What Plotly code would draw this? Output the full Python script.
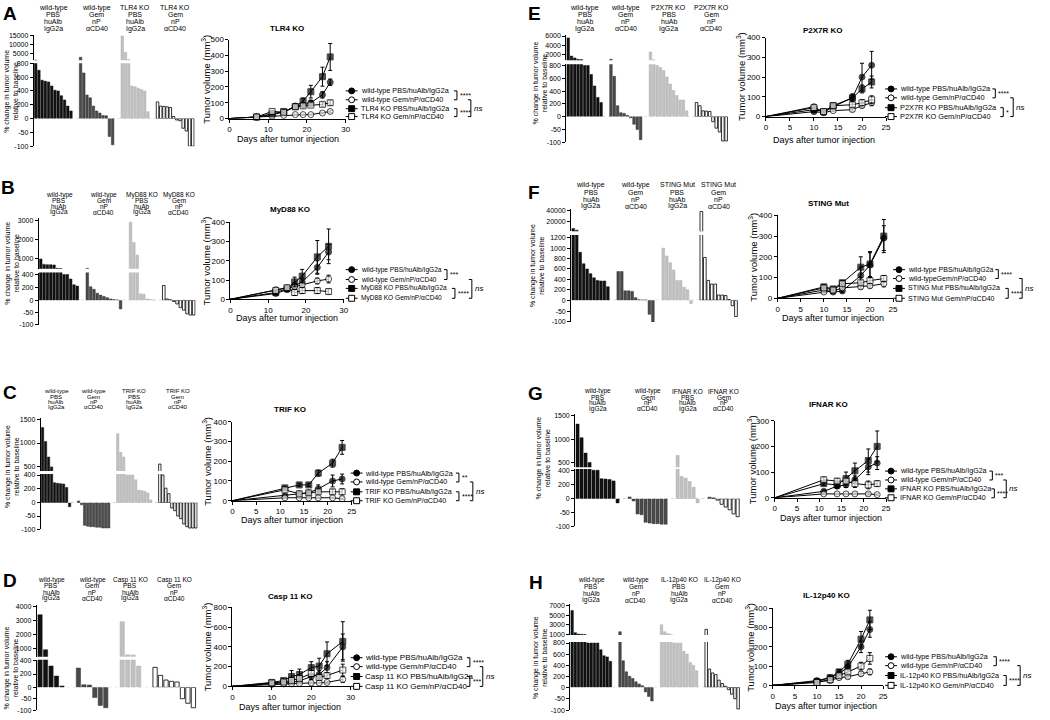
import plotly.graph_objects as go

W, H = 1050, 720
FONT = "Arial, Liberation Sans, sans-serif"

# ====================== DATA ======================
# --- Waterfall plots: % change in tumor volume relative to baseline (one list per group)
A_wf_wt_pbs = [850, 700, 555, 540, 530, 470, 410, 400, 330, 270, 180, 110]
A_wf_wt_gem = [2600, 660, 340, 300, 180, 110, 80, 45, 40, -65, -95]
A_wf_ko_pbs = [15000, 5500, 1200, 470, 460, 440, 420, 400, 100]
A_wf_ko_gem = [240, 180, 175, 170, 160, 30, -5, -8, -35, -45, -100, -100]

B_wf_wt_pbs = [1000, 720, 700, 700, 690, 520, 510, 400, 400, 330, 240, 220]
B_wf_wt_gem = [520, 210, 170, 110, 80, 60, 40, 20, 10, 5, -35]
B_wf_ko_pbs = [2900, 1850, 1200, 100, 95, 20, 10, 5]
B_wf_ko_gem = [230, 20, 5, -5, -15, -30, -40, -55, -60, -60]

C_wf_wt_pbs = [1330, 1030, 700, 490, 290, 280, 275, 270, 220, -15]
C_wf_wt_gem = [25, -8, -85, -88, -90, -90, -92, -92, -95, -95, -95]
C_wf_ko_pbs = [1200, 800, 700, 400, 400, 400, 330, 180, 175, 165, 140, 40]
C_wf_ko_gem = [550, 400, 210, 130, -20, -30, -50, -60, -80, -90, -95, -95, -95]

D_wf_wt_pbs = [3400, 900, 320, 170, 20]
D_wf_wt_gem = [290, 40, 35, -45, -80, -90]
D_wf_ko_pbs = [2900, 550, 530, 320]
D_wf_ko_gem = [300, 180, 110, 90, 80, -50, -70, -90]

E_wf_wt_pbs = [5600, 1700, 1300, 1000, 950, 800, 800, 660, 480, 300, 220]
E_wf_wt_gem = [1000, 630, 170, 60, 50, 20, -5, -30, -50, -90]
E_wf_ko_pbs = [2600, 900, 800, 770, 720, 620, 510, 410, 330, 260, 260, 90]
E_wf_ko_gem = [220, 170, 90, 85, 80, -20, -45, -60, -95, -95]

F_wf_wt_pbs = [6000, 3000, 920, 700, 600, 510, 430, 380, 370, 370, 260]
F_wf_wt_gem = [550, 550, 180, 180, 170, 50, 10, 5, 5, -65, -100]
F_wf_ko_pbs = [1000, 850, 720, 580, 380, 380, 250, 200, -15]
F_wf_ko_gem = [38000, 820, 380, 310, 310, 100, 100, 90, 10, -25, -75]

G_wf_wt_pbs = [1320, 1030, 700, 500, 400, 400, 280, 275, 270, 250, -15]
G_wf_wt_gem = [25, -8, -55, -58, -85, -88, -90, -90, -92, -92]
G_wf_ko_pbs = [650, 310, 290, 240, 160, -15]
G_wf_ko_gem = [20, 10, -5, -20, -30, -40, -55, -65]

H_wf_wt_pbs = [6000, 1300, 1000, 950, 900, 800, 800, 800, 800, 680, 570, 550, 470]
H_wf_wt_gem = [1500, 480, 280, 200, 160, 100, 60, 30, -20, -40, -60]
H_wf_ko_pbs = [3000, 1500, 1100, 900, 800, 800, 800, 650, 600, 450, 400, 300]
H_wf_ko_gem = [2000, 330, 260, 230, 130, 70, 20, -10, -30, -50, -95]

# --- Group labels above the waterfalls
A_groups = [["wild-type", "PBS", "huAlb", "IgG2a"], ["wild-type", "Gem", "nP", "αCD40"],
            ["TLR4 KO", "PBS", "huAlb", "IgG2a"], ["TLR4 KO", "Gem", "nP", "αCD40"]]
B_groups = [["wild-type", "PBS", "huAb", "IgG2a"], ["wild-type", "Gem", "nP", "αCD40"],
            ["MyD88 KO", "PBS", "huAb", "IgG2a"], ["MyD88 KO", "Gem", "nP", "αCD40"]]
C_groups = [["wild-type", "PBS", "huAlb", "IgG2a"], ["wild-type", "Gem", "nP", "αCD40"],
            ["TRIF KO", "PBS", "huAlb", "IgG2a"], ["TRIF KO", "Gem", "nP", "αCD40"]]
D_groups = [["wild-type", "PBS", "huAlb", "IgG2a"], ["wild-type", "Gem", "nP", "αCD40"],
            ["Casp 11 KO", "PBS", "huAlb", "IgG2a"], ["Casp 11 KO", "Gem", "nP", "αCD40"]]
E_groups = [["wild-type", "PBS", "huAb", "IgG2a"], ["wild-type", "Gem", "nP", "αCD40"],
            ["P2X7R KO", "PBS", "huAb", "IgG2a"], ["P2X7R KO", "Gem", "nP", "αCD40"]]
F_groups = [["wild-type", "PBS", "huAb", "IgG2a"], ["wild-type", "Gem", "nP", "αCD40"],
            ["STING Mut", "PBS", "huAb", "IgG2a"], ["STING Mut", "Gem", "nP", "αCD40"]]
G_groups = [["wild-type", "PBS", "huAlb", "IgG2a"], ["wild-type", "Gem", "nP", "αCD40"],
            ["IFNAR KO", "PBS", "huAlb", "IgG2a"], ["IFNAR KO", "Gem", "nP", "αCD40"]]
H_groups = [["wild-type", "PBS", "huAlb", "IgG2a"], ["wild-type", "Gem", "nP", "αCD40"],
            ["IL-12p40 KO", "PBS", "huAlb", "IgG2a"], ["IL-12p40 KO", "Gem", "nP", "αCD40"]]

# --- Tumor growth curves (mean and SEM, mm^3)
A_days = [0, 7, 11, 14, 17, 19, 21, 24, 26]
A_wt_pbs = [0, 10, 25, 40, 80, 85, 100, 150, 230]
A_wt_pbs_sem = [0, 3, 5, 8, 10, 12, 15, 20, 20]
A_wt_gem = [0, 10, 15, 20, 25, 25, 25, 35, 45]
A_wt_gem_sem = [0, 2, 3, 3, 3, 3, 3, 5, 8]
A_ko_pbs = [0, 10, 30, 45, 75, 110, 170, 265, 390]
A_ko_pbs_sem = [0, 3, 5, 8, 12, 20, 40, 60, 85]
A_ko_gem = [0, 10, 45, 40, 75, 80, 85, 90, 100]
A_ko_gem_sem = [0, 3, 8, 8, 10, 10, 10, 12, 15]

B_days = [0, 12, 15, 17, 19, 23, 26]
B_wt_pbs = [0, 30, 50, 70, 90, 165, 245]
B_wt_pbs_sem = [0, 5, 8, 15, 20, 35, 40]
B_wt_gem = [0, 50, 60, 65, 75, 95, 105]
B_wt_gem_sem = [0, 5, 8, 10, 12, 15, 20]
B_ko_pbs = [0, 35, 55, 90, 120, 220, 275]
B_ko_pbs_sem = [0, 5, 10, 25, 35, 85, 90]
B_ko_gem = [0, 45, 60, 35, 45, 45, 40]
B_ko_gem_sem = [0, 5, 8, 15, 15, 15, 12]

C_days = [0, 11, 14, 16, 18, 21, 23]
C_wt_pbs = [0, 25, 35, 40, 60, 100, 110]
C_wt_pbs_sem = [0, 5, 5, 8, 20, 30, 25]
C_wt_gem = [0, 15, 15, 15, 15, 15, 10]
C_wt_gem_sem = [0, 3, 3, 3, 3, 3, 3]
C_ko_pbs = [0, 65, 80, 80, 140, 190, 270]
C_ko_pbs_sem = [0, 8, 8, 8, 15, 20, 35]
C_ko_gem = [0, 55, 35, 40, 45, 45, 45]
C_ko_gem_sem = [0, 5, 8, 10, 10, 12, 15]

D_days = [0, 10, 13, 15, 17, 20, 22, 24, 28]
D_wt_pbs = [0, 30, 35, 40, 55, 100, 120, 190, 400]
D_wt_pbs_sem = [0, 5, 5, 10, 15, 30, 40, 60, 130]
D_wt_gem = [0, 20, 25, 25, 30, 35, 35, 40, 70]
D_wt_gem_sem = [0, 5, 5, 5, 5, 8, 8, 10, 30]
D_ko_pbs = [0, 40, 60, 100, 120, 190, 205, 330, 455]
D_ko_pbs_sem = [0, 10, 15, 60, 55, 60, 80, 120, 200]
D_ko_gem = [0, 35, 45, 60, 80, 130, 90, 110, 165]
D_ko_gem_sem = [0, 5, 10, 15, 20, 30, 20, 25, 60]

E_days = [0, 10, 12, 14, 18, 20, 22]
E_wt_pbs = [0, 25, 20, 50, 95, 200, 260]
E_wt_pbs_sem = [0, 5, 5, 10, 20, 70, 70]
E_wt_gem = [0, 50, 20, 30, 35, 55, 70]
E_wt_gem_sem = [0, 10, 5, 5, 8, 10, 15]
E_ko_pbs = [0, 35, 25, 55, 95, 140, 175]
E_ko_pbs_sem = [0, 8, 5, 10, 15, 20, 30]
E_ko_gem = [0, 45, 25, 55, 60, 70, 85]
E_ko_gem_sem = [0, 8, 5, 10, 10, 15, 20]

F_days = [0, 10, 12, 14, 18, 20, 23]
F_wt_pbs = [0, 40, 30, 35, 110, 160, 290]
F_wt_pbs_sem = [0, 8, 5, 8, 40, 60, 60]
F_wt_gem = [0, 30, 35, 50, 55, 60, 70]
F_wt_gem_sem = [0, 5, 5, 8, 10, 10, 15]
F_ko_pbs = [0, 55, 45, 75, 150, 165, 300]
F_ko_pbs_sem = [0, 10, 8, 10, 50, 60, 80]
F_ko_gem = [0, 50, 40, 70, 75, 85, 95]
F_ko_gem_sem = [0, 8, 8, 10, 10, 12, 15]

G_days = [0, 11, 14, 16, 18, 21, 23]
G_wt_pbs = [0, 25, 45, 50, 70, 120, 135]
G_wt_pbs_sem = [0, 5, 8, 10, 15, 30, 25]
G_wt_gem = [0, 15, 15, 15, 15, 15, 12]
G_wt_gem_sem = [0, 3, 3, 3, 3, 5, 3]
G_ko_pbs = [0, 55, 50, 75, 105, 145, 200]
G_ko_pbs_sem = [0, 8, 10, 25, 30, 45, 60]
G_ko_gem = [0, 70, 65, 65, 55, 50, 55]
G_ko_gem_sem = [0, 10, 10, 10, 15, 15, 10]

H_days = [0, 10, 13, 15, 17, 20, 22]
H_wt_pbs = [0, 25, 40, 60, 95, 200, 290]
H_wt_pbs_sem = [0, 5, 5, 10, 15, 30, 40]
H_wt_gem = [0, 20, 25, 40, 45, 60, 70]
H_wt_gem_sem = [0, 5, 5, 5, 8, 10, 15]
H_ko_pbs = [0, 20, 40, 70, 110, 240, 340]
H_ko_pbs_sem = [0, 5, 8, 12, 20, 40, 50]
H_ko_gem = [0, 15, 30, 50, 70, 100, 140]
H_ko_gem_sem = [0, 3, 5, 10, 10, 20, 30]

# --- Legend names
A_names = ["wild-type PBS/huAlb/IgG2a", "wild-type Gem/nP/αCD40", "TLR4 KO PBS/huAlb/IgG2a", "TLR4 KO Gem/nP/αCD40"]
B_names = ["wild-type PBS/huAlb/IgG2a", "wild-type Gem/nP/αCD40", "MyD88 KO PBS/huAlb/IgG2a", "MyD88 KO Gem/nP/αCD40"]
C_names = ["wild-type PBS/huAlb/IgG2a", "wild-type Gem/nP/αCD40", "TRIF KO PBS/huAlb/IgG2a", "TRIF KO Gem/nP/αCD40"]
D_names = ["wild-type PBS/huAlb/IgG2a", "wild-type Gem/nP/αCD40", "Casp 11 KO PBS/huAlb/IgG2a", "Casp 11 KO Gem/nP/αCD40"]
E_names = ["wild-type PBS/huAlb/IgG2a", "wild-type Gem/nP/αCD40", "P2X7R KO PBS/huAlb/IgG2a", "P2X7R KO Gem/nP/αCD40"]
F_names = ["wild-type PBS/huAlb/IgG2a", "wild-typeGem/nP/αCD40", "STING Mut PBS/huAlb/IgG2a", "STING Mut Gem/nP/αCD40"]
G_names = ["wild-type PBS/huAlb/IgG2a", "wild-type Gem/nP/αCD40", "IFNAR KO PBS/huAlb/IgG2a", "IFNAR KO Gem/nP/αCD40"]
H_names = ["wild-type PBS/huAlb/IgG2a", "wild-type Gem/nP/αCD40", "IL-12p40 KO PBS/huAlb/IgG2a", "IL-12p40 KO Gem/nP/αCD40"]

# --- Significance labels (pair 1, pair 2)
A_sig = ["****", "****"]
B_sig = ["***", "****"]
C_sig = ["**", "****"]
D_sig = ["****", "***"]
E_sig = ["****", "*"]
F_sig = ["****", "****"]
G_sig = ["***", "****"]
H_sig = ["****", "****"]

# ====================== FIGURE ======================
fig = go.Figure()
layout = dict(width=W, height=H, margin=dict(l=0, r=0, t=0, b=0), paper_bgcolor="white",
              plot_bgcolor="rgba(0,0,0,0)", showlegend=False, barmode="overlay",
              font=dict(family=FONT, color="black"))
annotations = []
shapes = []
counter = [0]


def new_axes():
    counter[0] += 1
    n = counter[0]
    s = "" if n == 1 else str(n)
    return "x" + s, "y" + s, "xaxis" + s, "yaxis" + s


def xp(x):
    return x / W


def yp(y):
    return 1 - y / H


def text(x, y, s, size, xanchor="center", angle=0):
    annotations.append(dict(x=xp(x), y=yp(y), xref="paper", yref="paper", text=s, showarrow=False,
                            xanchor=xanchor, yanchor="middle", textangle=angle, borderpad=0,
                            font=dict(size=size, family=FONT, color="black")))


GROUP_STYLE = [dict(color="#111111", line=dict(color="#111111", width=0.5)),
               dict(color="#4a4a4a", line=dict(color="#333333", width=0.5)),
               dict(color="#c0c0c0", line=dict(color="#b0b0b0", width=0.5)),
               dict(color="white", line=dict(color="black", width=0.8))]
GAP = 2


def waterfall(groups, labels, x0, x1, segs, label_ys, label_size):
    positions = []
    pos = 0
    for vals in groups:
        positions.append(list(range(pos, pos + len(vals))))
        pos += len(vals) + GAP
    xr = [-0.6, pos - GAP - 0.4]
    mid = None
    for k, (top, bot, rng, ticks) in enumerate(segs):
        xa, ya, xk, yk = new_axes()
        layout[xk] = dict(domain=[xp(x0), xp(x1)], range=xr, visible=False, anchor=ya)
        layout[yk] = dict(domain=[yp(bot), yp(top)], range=rng, anchor=xa, showline=True,
                          linecolor="black", linewidth=1, ticks="outside", ticklen=3, tickwidth=1,
                          tickcolor="black", tickvals=ticks, ticktext=[str(t) for t in ticks],
                          tickfont=dict(size=7, family=FONT, color="black"), showgrid=False,
                          zeroline=False)
        for g, vals in enumerate(groups):
            # each segment of the broken axis only shows the bars that reach into it
            if k == 0:
                yv = [v if v > rng[0] else None for v in vals]
            elif k == 1:
                yv = [v if v > 0 else None for v in vals]
            else:
                yv = [v if v < 0 else None for v in vals]
            fig.add_trace(go.Bar(x=positions[g], y=yv, xaxis=xa, yaxis=ya, width=0.78,
                                 marker=GROUP_STYLE[g], hoverinfo="skip"))
        if k == 1:
            mid = (xa, ya)
    shapes.append(dict(type="line", xref=mid[0], yref=mid[1], x0=xr[0], x1=xr[1], y0=0, y1=0,
                       layer="below", line=dict(color="#bbbbbb", width=1, dash="dot")))
    for g, lines in enumerate(labels):
        cx = (positions[g][0] + positions[g][-1]) / 2
        for li, s in enumerate(lines):
            annotations.append(dict(x=cx, xref=mid[0], y=yp(label_ys[li]), yref="paper", text=s,
                                    showarrow=False, xanchor="center", yanchor="middle", borderpad=0,
                                    font=dict(size=label_size, family=FONT, color="black")))


SYMS = [("circle", True), ("circle", False), ("square", True), ("square", False)]


def growth(x0, x1, top, bot, xr, dx, yr, dy, days, series):
    xa, ya, xk, yk = new_axes()
    ax = dict(showline=True, linecolor="black", linewidth=1, ticks="outside", ticklen=3,
              tickwidth=1, tickcolor="black", tickfont=dict(size=8, family=FONT, color="black"),
              showgrid=False, zeroline=False, tick0=0)
    layout[xk] = dict(ax, domain=[xp(x0), xp(x1)], range=xr, dtick=dx, anchor=ya)
    layout[yk] = dict(ax, domain=[yp(bot), yp(top)], range=yr, dtick=dy, anchor=xa)
    sizes = [0] + [6] * (len(days) - 1)
    for (vals, sem), (sym, filled) in zip(series, SYMS):
        fig.add_trace(go.Scatter(
            x=days, y=vals, xaxis=xa, yaxis=ya, mode="lines+markers", cliponaxis=False,
            line=dict(color="black", width=1),
            marker=dict(symbol=sym, size=sizes, color="black" if filled else "white",
                        line=dict(color="black", width=1)),
            error_y=dict(type="data", array=sem, color="black", thickness=1, width=2),
            hoverinfo="skip"))


def bracket(bx, ya, yb, label, size):
    shapes.append(dict(type="path", xref="paper", yref="paper",
                       path=f"M {xp(bx-3)} {yp(ya)} L {xp(bx)} {yp(ya)} L {xp(bx)} {yp(yb)} L {xp(bx-3)} {yp(yb)}",
                       line=dict(color="black", width=1)))
    text(bx + 2, (ya + yb) / 2, label, size, xanchor="left")


def legend(mx, tx, rows, names, sig, fsize, br1, br2, outer):
    for i, (sym, filled) in enumerate(SYMS):
        y = rows[i]
        shapes.append(dict(type="line", xref="paper", yref="paper", x0=xp(mx - 6), x1=xp(mx + 6),
                           y0=yp(y), y1=yp(y), line=dict(color="black", width=1)))
        shapes.append(dict(type="circle" if sym == "circle" else "rect", xref="paper", yref="paper",
                           x0=xp(mx - 3), x1=xp(mx + 3), y0=yp(y + 3), y1=yp(y - 3),
                           fillcolor="black" if filled else "white", line=dict(color="black", width=1)))
        text(tx, y, names[i], fsize, xanchor="left")
    bracket(br1, rows[0], rows[1], sig[0], 7)
    bracket(br2, rows[2], rows[3], sig[1], 7)
    bracket(outer, rows[1], rows[3], "<i>ns</i>", 8)


PANELS = [
    dict(letter="A", lxy=(8, 10),
         wf=[A_wf_wt_pbs, A_wf_wt_gem, A_wf_ko_pbs, A_wf_ko_gem], groups=A_groups, wx=(32, 194),
         segs=[(31, 57, [800, 15800], [5000, 10000, 15000]), (60, 116, [0, 800], [0, 200, 400, 600, 800]),
               (116, 144, [-100, 0], [-100, -50])],
         lys=[4, 11, 18, 25], lsz=7, wyt=(9, 88),
         gx=(229, 346), gy=(36, 116), xr=[0, 30], dx=10, yr=[0, 500], dy=100, days=A_days,
         series=[(A_wt_pbs, A_wt_pbs_sem), (A_wt_gem, A_wt_gem_sem), (A_ko_pbs, A_ko_pbs_sem), (A_ko_gem, A_ko_gem_sem)],
         title="TLR4 KO", txy=(287, 25), gyt=(205, 76), gxt=(288, 137),
         names=A_names, sig=A_sig, fs=7.2, mx=352, tx=360, rows=[88, 97, 106, 114], br=(458, 458, 472)),
    dict(letter="B", lxy=(6, 186),
         wf=[B_wf_wt_pbs, B_wf_wt_gem, B_wf_ko_pbs, B_wf_ko_gem], groups=B_groups, wx=(37, 195),
         segs=[(217, 268, [500, 3100], [1000, 2000, 3000]), (272, 300, [0, 430], [0, 200, 400]),
               (300, 325, [-100, 0], [-100, -50])],
         lys=[193, 199, 205, 211], lsz=6.5, wyt=(10, 262),
         gx=(230, 344), gy=(221, 299), xr=[0, 30], dx=10, yr=[0, 400], dy=100, days=B_days,
         series=[(B_wt_pbs, B_wt_pbs_sem), (B_wt_gem, B_wt_gem_sem), (B_ko_pbs, B_ko_pbs_sem), (B_ko_gem, B_ko_gem_sem)],
         title="MyD88 KO", txy=(290, 208), gyt=(205, 260), gxt=(287, 318),
         names=B_names, sig=B_sig, fs=6.6, mx=352, tx=360, rows=[269, 279, 288, 298], br=(448, 456, 473)),
    dict(letter="C", lxy=(8, 393),
         wf=[C_wf_wt_pbs, C_wf_wt_gem, C_wf_ko_pbs, C_wf_ko_gem], groups=C_groups, wx=(39, 197),
         segs=[(419, 473, [400, 1540], [500, 1000, 1500]), (476, 505, [0, 414], [0, 200, 400]),
               (505, 532, [-100, 0], [-100, -50])],
         lys=[392, 397.5, 403, 408.5], lsz=6, wyt=(10, 468),
         gx=(232, 352), gy=(423, 503), xr=[0, 25], dx=5, yr=[0, 400], dy=100, days=C_days,
         series=[(C_wt_pbs, C_wt_pbs_sem), (C_wt_gem, C_wt_gem_sem), (C_ko_pbs, C_ko_pbs_sem), (C_ko_gem, C_ko_gem_sem)],
         title="TRIF KO", txy=(290, 411), gyt=(207, 463), gxt=(292, 523),
         names=C_names, sig=C_sig, fs=7.2, mx=357, tx=364, rows=[475, 484, 494, 503], br=(460, 460, 474)),
    dict(letter="D", lxy=(8, 584),
         wf=[D_wf_wt_pbs, D_wf_wt_gem, D_wf_ko_pbs, D_wf_ko_gem], groups=D_groups, wx=(35, 196),
         segs=[(609, 661, [400, 4070], [1000, 2000, 3000, 4000]), (664, 692, [0, 415], [0, 200, 400]),
               (692, 715, [-100, 0], [-100, -50])],
         lys=[583, 589, 596, 602], lsz=6.5, wyt=(9, 672),
         gx=(232, 351), gy=(611, 691), xr=[0, 30], dx=10, yr=[0, 800], dy=200, days=D_days,
         series=[(D_wt_pbs, D_wt_pbs_sem), (D_wt_gem, D_wt_gem_sem), (D_ko_pbs, D_ko_pbs_sem), (D_ko_gem, D_ko_gem_sem)],
         title="Casp 11 KO", txy=(290, 600), gyt=(206, 651), gxt=(290, 712),
         names=D_names, sig=D_sig, fs=8.0, mx=357, tx=364, rows=[662, 671, 681, 691], br=(471, 471, 484)),
    dict(letter="E", lxy=(536, 10),
         wf=[E_wf_wt_pbs, E_wf_wt_gem, E_wf_ko_pbs, E_wf_ko_gem], groups=E_groups, wx=(568, 731),
         segs=[(31, 57, [800, 6300], [2000, 4000, 6000]), (61, 114, [0, 820], [0, 200, 400, 600, 800]),
               (114, 140, [-100, 0], [-100, -50])],
         lys=[4, 11, 18, 25], lsz=7, wyt=(542, 80),
         gx=(769, 890), gy=(34, 114), xr=[0, 25], dx=5, yr=[0, 400], dy=100, days=E_days,
         series=[(E_wt_pbs, E_wt_pbs_sem), (E_wt_gem, E_wt_gem_sem), (E_ko_pbs, E_ko_pbs_sem), (E_ko_gem, E_ko_gem_sem)],
         title="P2X7R KO", txy=(827, 27), gyt=(744, 74), gxt=(828, 138),
         names=E_names, sig=E_sig, fs=7.4, mx=895, tx=903, rows=[86, 95, 105, 114], br=(1000, 1008, 1018)),
    dict(letter="F", lxy=(536, 191),
         wf=[F_wf_wt_pbs, F_wf_wt_gem, F_wf_ko_pbs, F_wf_ko_gem], groups=F_groups, wx=(573, 741),
         segs=[(208, 230, [1200, 42000], [20000, 40000]),
               (234, 300, [0, 1250], [0, 200, 400, 600, 800, 1000, 1200]),
               (300, 322, [-100, 0], [-100, -50])],
         lys=[183, 191, 198, 205], lsz=7, wyt=(538, 265),
         gx=(781, 897), gy=(214, 298), xr=[0, 25], dx=5, yr=[0, 400], dy=100, days=F_days,
         series=[(F_wt_pbs, F_wt_pbs_sem), (F_wt_gem, F_wt_gem_sem), (F_ko_pbs, F_ko_pbs_sem), (F_ko_gem, F_ko_gem_sem)],
         title="STING Mut", txy=(832, 202), gyt=(756, 256), gxt=(837, 318),
         names=F_names, sig=F_sig, fs=7.0, mx=903, tx=911, rows=[269, 278, 288, 298], br=(1003, 1013, 1027)),
    dict(letter="G", lxy=(537, 394),
         wf=[G_wf_wt_pbs, G_wf_wt_gem, G_wf_ko_pbs, G_wf_ko_gem], groups=G_groups, wx=(577, 743),
         segs=[(415, 469, [400, 1540], [500, 1000, 1500]), (471, 501, [0, 415], [0, 200, 400]),
               (501, 529, [-100, 0], [-100, -50])],
         lys=[392, 398, 404, 410], lsz=6.5, wyt=(545, 460),
         gx=(778, 890), gy=(422, 500), xr=[0, 25], dx=5, yr=[0, 300], dy=100, days=G_days,
         series=[(G_wt_pbs, G_wt_pbs_sem), (G_wt_gem, G_wt_gem_sem), (G_ko_pbs, G_ko_pbs_sem), (G_ko_gem, G_ko_gem_sem)],
         title="IFNAR KO", txy=(832, 406), gyt=(755, 461), gxt=(835, 520),
         names=G_names, sig=G_sig, fs=7.1, mx=895, tx=903, rows=[473, 482, 491, 500], br=(997, 999, 1011)),
    dict(letter="H", lxy=(538, 586),
         wf=[H_wf_wt_pbs, H_wf_wt_gem, H_wf_ko_pbs, H_wf_ko_gem], groups=H_groups, wx=(572, 743),
         segs=[(608, 639, [800, 7300], [1000, 3000, 5000, 7000]), (646, 692, [0, 820], [0, 200, 400, 600, 800]),
               (692, 715, [-100, 0], [-100, -50])],
         lys=[583, 590, 597, 604], lsz=6.5, wyt=(541, 662),
         gx=(776, 887), gy=(612, 690), xr=[0, 25], dx=5, yr=[0, 400], dy=100, days=H_days,
         series=[(H_wt_pbs, H_wt_pbs_sem), (H_wt_gem, H_wt_gem_sem), (H_ko_pbs, H_ko_pbs_sem), (H_ko_gem, H_ko_gem_sem)],
         title="IL-12p40 KO", txy=(830, 599), gyt=(753, 651), gxt=(830, 711),
         names=H_names, sig=H_sig, fs=7.2, mx=895, tx=903, rows=[661, 670, 680, 690], br=(1001, 1011, 1025)),
]

for p in PANELS:
    text(p["lxy"][0], p["lxy"][1], "<b>%s</b>" % p["letter"], 19)
    waterfall(p["wf"], p["groups"], p["wx"][0], p["wx"][1], p["segs"], p["lys"], p["lsz"])
    text(p["wyt"][0], p["wyt"][1], "% change in tumor volume<br>relative to baseline", 7, angle=-90)
    growth(p["gx"][0], p["gx"][1], p["gy"][0], p["gy"][1], p["xr"], p["dx"], p["yr"], p["dy"],
           p["days"], p["series"])
    text(p["txy"][0], p["txy"][1], "<b>%s</b>" % p["title"], 8)
    text(p["gyt"][0], p["gyt"][1], "Tumor volume (mm<sup>3</sup>)", 9.5, angle=-90)
    text(p["gxt"][0], p["gxt"][1], "Days after tumor injection", 9)
    legend(p["mx"], p["tx"], p["rows"], p["names"], p["sig"], p["fs"], *p["br"])

layout["annotations"] = annotations
layout["shapes"] = shapes
fig.update_layout(**layout)
fig.write_html("out.html", config={"displayModeBar": False, "staticPlot": True},
               post_script="document.body.style.margin='0px';document.body.style.overflow='hidden';")
